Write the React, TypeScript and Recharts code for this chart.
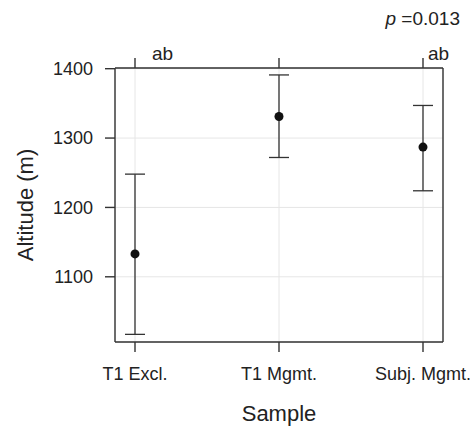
import { ComposedChart, Scatter, ErrorBar, XAxis, YAxis, CartesianGrid, Label } from "recharts";

const samples = ["T1 Excl.", "T1 Mgmt.", "Subj. Mgmt."];
const meanAltitude = [1133, 1331, 1287];
const lowerAltitude = [1017, 1272, 1224];
const upperAltitude = [1248, 1391, 1347];
const groupLetters = ["ab", "", "ab"];
const yTicks = [1100, 1200, 1300, 1400];
const pValue = "0.013";

const data = samples.map((sample, i) => ({
  sample,
  mean: meanAltitude[i],
  err: [meanAltitude[i] - lowerAltitude[i], upperAltitude[i] - meanAltitude[i]],
}));

const ink = "#222";
const frame = "#333";
const font = "'Liberation Sans', Arial, sans-serif";
const letterDx = [17, 0, 5];

const TopTick = ({ x, y, index }: any) => {
  const txt = groupLetters[index];
  if (!txt) return <g />;
  return (
    <text x={x + letterDx[index]} y={y + 4} fontSize={19} fill={ink} fontFamily={font}>
      {txt}
    </text>
  );
};

const YLabel = ({ viewBox }: any) => {
  const cy = viewBox.y + viewBox.height / 2;
  return (
    <text
      x={25}
      y={cy}
      transform={`rotate(-90, 25, ${cy})`}
      textAnchor="middle"
      dominantBaseline="central"
      fontSize={22}
      fill={ink}
      fontFamily={font}
    >
      Altitude (m)
    </text>
  );
};

const PLabel = ({ viewBox }: any) => (
  <text x={viewBox.x + viewBox.width + 17} y={viewBox.y - 13} textAnchor="end" fontSize={19} fill={ink} fontFamily={font}>
    <tspan fontStyle="italic">p</tspan> =0.{pValue.slice(2)}
  </text>
);

const Dot = (p: any) => <circle cx={p.cx} cy={p.cy} r={4.5} fill="#111" />;

export default function App() {
  return (
    <div style={{ position: "absolute", left: 0, top: 0, background: "#fff" }}>
      <ComposedChart
        width={475}
        height={428}
        data={data}
        margin={{ top: 38, right: 12, bottom: 0, left: 55 }}
        style={{ fontFamily: font }}
      >
        <CartesianGrid stroke="#e6e6e6" strokeWidth={1} />
        <XAxis
          dataKey="sample"
          scale="point"
          padding={{ left: 20, right: 20 }}
          interval={0}
          height={86}
          tickSize={10}
          tickMargin={15}
          stroke={frame}
          axisLine={{ stroke: frame, strokeWidth: 1.4 }}
          tickLine={{ stroke: frame, strokeWidth: 1.4 }}
          tick={{ fontSize: 18, fill: ink }}
        >
          <Label value="Sample" position="insideBottom" offset={7} fontSize={22} fill={ink} />
        </XAxis>
        <XAxis
          xAxisId="top"
          orientation="top"
          dataKey="sample"
          scale="point"
          padding={{ left: 20, right: 20 }}
          interval={0}
          height={30}
          tickSize={10}
          axisLine={{ stroke: frame, strokeWidth: 1.4 }}
          tickLine={{ stroke: frame, strokeWidth: 1.4 }}
          tick={TopTick}
        >
          <Label content={PLabel} />
        </XAxis>
        <YAxis
          domain={[1006, 1401]}
          ticks={yTicks}
          allowDataOverflow
          width={60}
          tickSize={10}
          tickMargin={12}
          axisLine={{ stroke: frame, strokeWidth: 1.4 }}
          tickLine={{ stroke: frame, strokeWidth: 1.4 }}
          tick={{ fontSize: 18, fill: ink }}
        >
          <Label content={YLabel} />
        </YAxis>
        <YAxis
          yAxisId="right"
          orientation="right"
          domain={[1006, 1401]}
          ticks={yTicks}
          allowDataOverflow
          width={20}
          tickSize={10}
          axisLine={{ stroke: frame, strokeWidth: 1.4 }}
          tickLine={{ stroke: frame, strokeWidth: 1.4 }}
          tick={false}
        />
        <Scatter dataKey="mean" shape={Dot} isAnimationActive={false}>
          <ErrorBar dataKey="err" direction="y" width={10} stroke={frame} strokeWidth={1.3} />
        </Scatter>
      </ComposedChart>
    </div>
  );
}
